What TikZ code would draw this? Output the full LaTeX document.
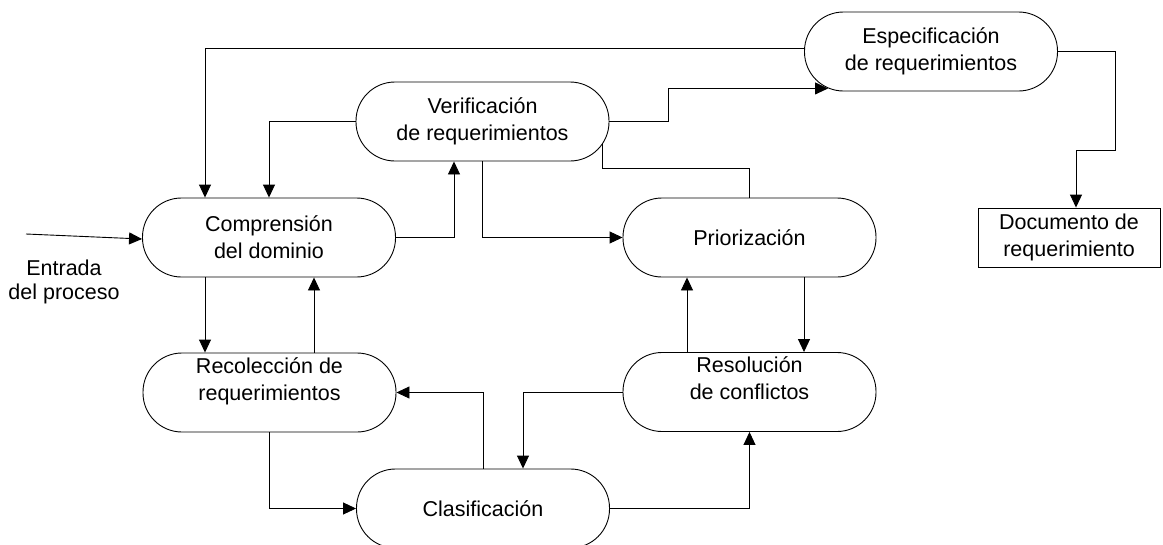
\documentclass[tikz,border=0pt]{standalone}
\usepackage{fontspec}
\setmainfont{Liberation Sans}
\usetikzlibrary{arrows.meta}
\begin{document}
\begin{tikzpicture}[x=1pt,y=-1pt,
  txt/.style={font=\fontsize{21.5}{27}\selectfont},
  proc/.style={draw, line width=0.9pt, rounded corners=39pt, minimum width=253pt,
    minimum height=79pt, inner sep=0pt, align=center, txt},
  docbox/.style={draw, line width=0.9pt, minimum width=182pt, minimum height=59pt,
    inner sep=0pt, align=center, txt},
  conn/.style={line width=0.9pt},
  arr/.style={conn, -{Triangle[length=13pt,width=12pt]}}]
\useasboundingbox (0,0) rectangle (1163,544);
\clip (0,0) rectangle (1163,544);

\node[proc] (esp) at (931,51.5) {Especificación\\de requerimientos};
\node[proc] (ver) at (482.5,121.5) {Verificación\\de requerimientos};
\node[proc] (com) at (269,237.5) {Comprensión\\del dominio};
\node[proc] (pri) at (749.5,237.5) {Priorización};
\node[proc] (rec) at (269.5,392.5) {Recolección de\\requerimientos\\\mbox{}};
\node[proc] (res) at (749.5,392) {Resolución\\de conflictos\\\mbox{}};
\node[proc] (cla) at (483,508.5) {Clasificación};
\node[docbox] (doc) at (1069,237.5) {Documento de\\requerimiento};
\node[align=center, font=\fontsize{21.5}{24}\selectfont, inner sep=0pt] (ent) at (64,281.5) {Entrada\\del proceso};

\coordinate (in) at (26,234);
\coordinate (vx) at (668,0);
\coordinate (ex) at (1115,150);

% top loop from specification back to comprehension
\draw[arr] ([yshift=3.5pt]esp.west) -| ([xshift=-64pt]com.north);
\draw[arr] (ver.west) -| (com.north);
\draw[arr] (ver.east) -- (ver.east -| vx) |- ([xshift=24pt,yshift=3pt]esp.south west);
\draw[arr] (com.east) -| ([xshift=-28.5pt]ver.south);
\draw[arr] (ver.south) |- (pri.west);
\draw[conn] ([xshift=-7pt,yshift=-22pt]ver.east) |- ([yshift=29pt]pri.north) -- (pri.north);
\draw[arr] ([xshift=-64pt]com.south) -- ([xshift=-64.5pt]rec.north);
\draw[arr] ([xshift=44.5pt]rec.north) -- ([xshift=45pt]com.south);
\draw[arr] (rec.south) |- (cla.west);
\draw[arr] (cla.north) |- (rec.east);
\draw[arr] (res.west) -| ([xshift=40pt]cla.north);
\draw[arr] (cla.east) -| (res.south);
\draw[arr] ([xshift=54.5pt]pri.south) -- ([xshift=54.5pt]res.north);
\draw[arr] ([xshift=-62.5pt]res.north) -- ([xshift=-62.5pt]pri.south);
\draw[arr] (esp.east) -| (ex) -| ([xshift=7pt]doc.north);
\draw[arr] (in) -- ([yshift=-1.5pt]com.west);
\end{tikzpicture}
\end{document}
